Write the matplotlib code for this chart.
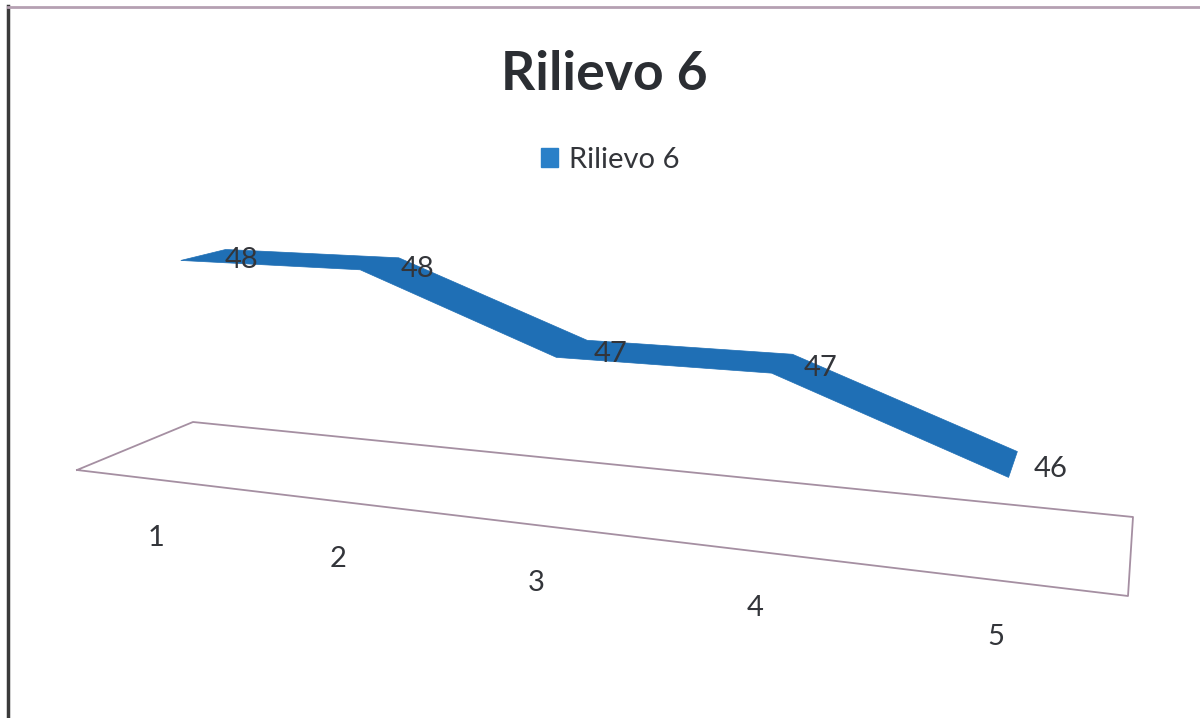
import numpy as np
import matplotlib
matplotlib.use("Agg")
import matplotlib.pyplot as plt
from matplotlib.patches import Patch

categories = ["1", "2", "3", "4", "5"]
values = [48, 48, 47, 47, 46]
value_labels = ["48", "48", "47", "47", "46"]
series_name = "Rilievo 6"

BLUE = "#1f6fb5"
FLOOR = "#a58fa2"
TEXT = "#33353a"
BASE_VALUE = 45
RISE = 67


def fit_homography(src, dst):
    a, b = [], []
    for (s, d), (x, y) in zip(src, dst):
        a.append([s, d, 1, 0, 0, 0, -s * x, -d * x])
        a.append([0, 0, 0, s, d, 1, -s * y, -d * y])
        b += [x, y]
    return np.append(np.linalg.solve(np.array(a, float), np.array(b, float)), 1).reshape(3, 3)


# floor of the fake 3d chart, in figure pixels
H = fit_homography([(0, 0), (1, 0), (1, 1), (0, 1)],
                   [(77, 470), (1128, 596), (1133, 517), (193, 422)])


def project_floor(s, depth):
    return H @ np.array([s, depth, 1])


def project(cat, value, depth):
    """cat is 1-based position, depth 0 = front of floor, 1 = back"""
    s = (cat - 0.5) / 5
    # the original's categories are spaced a bit more evenly than the floor
    s = s + 0.05 * s * (1 - s) + 0.0125 * (s - 0.58)
    w_ref = H[2] @ np.array([0.1, 0.5, 1])
    px = project_floor(s, depth)
    x, y = px[0] / px[2], px[1] / px[2]
    y -= (value - BASE_VALUE) * RISE * w_ref / px[2]
    return x, y


fig = plt.figure(figsize=(12, 7.18), dpi=100)
ax = fig.add_axes([0, 0, 1, 1])
ax.set_xlim(0, 1200)
ax.set_ylim(718, 0)
ax.axis("off")

plt.rcParams["font.family"] = ["Lato", "DejaVu Sans"]

# scan edges
ax.plot([7.5, 7.5], [6, 718], color="#3a3a3a", lw=2.5)
ax.plot([8, 1200], [6.5, 6.5], color="#b5a0b2", lw=2)

# floor
corners = [(0, 0), (1, 0), (1, 1), (0, 1), (0, 0)]
floor_xy = [project_floor(s, d) for s, d in corners]
ax.plot([p[0] / p[2] for p in floor_xy], [p[1] / p[2] for p in floor_xy], color=FLOOR, lw=1.3)

# ribbon
cats = np.arange(1, len(values) + 1)
front = [project(c, v, 0.2) for c, v in zip(cats, values)]
back = [project(c, v, 0.6) for c, v in zip(cats, values)]
ax.fill(*zip(*(back + front[::-1])), color=BLUE, lw=0.5)

# labels
for c, v, lab in zip(cats, values, value_labels):
    x, y = project(c, v, 0.4)
    ax.text(x + 38, y + 5, lab, fontsize=21, color=TEXT, ha="center", va="center")
for c, lab in zip(cats, categories):
    x, y = project(c, BASE_VALUE, 0.08)
    ax.text(x - 10, y + 62.5, lab, fontsize=21, color=TEXT, ha="center", va="center")

ax.text(604, 74, series_name, fontsize=38.5, fontweight="bold", color="#2b2e33", ha="center", va="center")
ax.legend(handles=[Patch(color="#2a80c8", label=series_name)], loc="center", bbox_to_anchor=(610, 160),
          bbox_transform=ax.transData, frameon=False, fontsize=21, labelcolor=TEXT,
          handlelength=0.6, handleheight=0.6, handletextpad=0.35)

fig.savefig("out.png", dpi=100)
